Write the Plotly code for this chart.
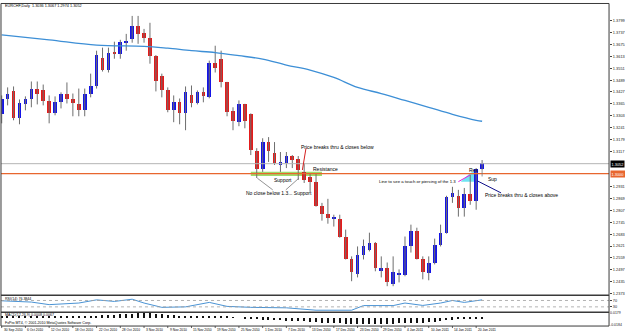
import plotly.graph_objects as go

# ---------------- data ----------------
dates = ["30 Sep 2010", "6 Oct 2010", "12 Oct 2010", "18 Oct 2010", "22 Oct 2010",
         "28 Oct 2010", "3 Nov 2010", "9 Nov 2010", "15 Nov 2010", "19 Nov 2010",
         "25 Nov 2010", "1 Dec 2010", "7 Dec 2010", "13 Dec 2010", "17 Dec 2010",
         "23 Dec 2010", "29 Dec 2010", "4 Jan 2011", "10 Jan 2011", "14 Jan 2011",
         "20 Jan 2011"]
date_bars = [0, 4, 8, 12, 16, 20, 24, 28, 32, 36, 40, 44, 48, 52, 56, 60, 64, 68, 72, 76, 80]

opens = [1.3310, 1.3388, 1.3430, 1.3289, 1.3362, 1.3388, 1.3445, 1.3435, 1.3378, 1.3315,
         1.3373, 1.3414, 1.3393, 1.3362, 1.3331, 1.3419, 1.3461, 1.3607, 1.3544, 1.3633,
         1.3627, 1.3685, 1.3705, 1.3773, 1.3737, 1.3711, 1.3617, 1.3513, 1.3435, 1.3331,
         1.3373, 1.3315, 1.3409, 1.3367, 1.3425, 1.3399, 1.3581, 1.3601, 1.3477, 1.3326,
         1.3269, 1.3362, 1.3310, 1.3118, 1.3024, 1.3165, 1.3107, 1.3045, 1.3055, 1.3092,
         1.3076, 1.3009, 1.2983, 1.2957, 1.2832, 1.2790, 1.2764, 1.2764, 1.2671, 1.2551,
         1.2473, 1.2572, 1.2603, 1.2639, 1.2489, 1.2504, 1.2421, 1.2473, 1.2468, 1.2619,
         1.2702, 1.2555, 1.2478, 1.2535, 1.2629, 1.2691, 1.2879, 1.2884, 1.2821, 1.2894,
         1.2858, 1.3024]
highs = [1.3409, 1.3451, 1.3456, 1.3388, 1.3404, 1.3482, 1.3482, 1.3466, 1.3409, 1.3404,
         1.3425, 1.3477, 1.3419, 1.3445, 1.3445, 1.3523, 1.3643, 1.3659, 1.3659, 1.3690,
         1.3700, 1.3731, 1.3825, 1.3825, 1.3757, 1.3789, 1.3620, 1.3523, 1.3451, 1.3409,
         1.3393, 1.3456, 1.3461, 1.3435, 1.3451, 1.3591, 1.3669, 1.3643, 1.3480, 1.3347,
         1.3383, 1.3365, 1.3315, 1.3133, 1.3185, 1.3191, 1.3165, 1.3113, 1.3113, 1.3097,
         1.3092, 1.3055, 1.3003, 1.2998, 1.2847, 1.2868, 1.2785, 1.2785, 1.2707, 1.2567,
         1.2619, 1.2655, 1.2691, 1.2642, 1.2567, 1.2535, 1.2567, 1.2499, 1.2671, 1.2733,
         1.2717, 1.2567, 1.2567, 1.2660, 1.2733, 1.2884, 1.2931, 1.2915, 1.2925, 1.2993,
         1.3029, 1.3071]
lows = [1.3263, 1.3357, 1.3279, 1.3258, 1.3331, 1.3347, 1.3362, 1.3357, 1.3263, 1.3305,
        1.3341, 1.3367, 1.3300, 1.3300, 1.3300, 1.3399, 1.3445, 1.3534, 1.3529, 1.3601,
        1.3601, 1.3643, 1.3685, 1.3679, 1.3685, 1.3575, 1.3430, 1.3399, 1.3321, 1.3269,
        1.3258, 1.3227, 1.3347, 1.3362, 1.3373, 1.3394, 1.3529, 1.3451, 1.3300, 1.3227,
        1.3248, 1.3237, 1.3097, 1.2977, 1.3009, 1.3061, 1.3045, 1.3009, 1.3029, 1.3029,
        1.2967, 1.2951, 1.2905, 1.2827, 1.2754, 1.2738, 1.2723, 1.2665, 1.2551, 1.2437,
        1.2457, 1.2551, 1.2593, 1.2489, 1.2457, 1.2411, 1.2411, 1.2431, 1.2463, 1.2587,
        1.2551, 1.2447, 1.2442, 1.2525, 1.2619, 1.2686, 1.2847, 1.2775, 1.2775, 1.2837,
        1.2811, 1.3019]
closes = [1.3393, 1.3419, 1.3289, 1.3367, 1.3388, 1.3445, 1.3414, 1.3378, 1.3315, 1.3373,
          1.3414, 1.3388, 1.3367, 1.3331, 1.3419, 1.3461, 1.3622, 1.3544, 1.3633, 1.3627,
          1.3690, 1.3695, 1.3773, 1.3731, 1.3711, 1.3617, 1.3482, 1.3440, 1.3331, 1.3373,
          1.3315, 1.3425, 1.3367, 1.3425, 1.3404, 1.3581, 1.3555, 1.3477, 1.3321, 1.3274,
          1.3362, 1.3274, 1.3123, 1.3024, 1.3165, 1.3118, 1.3055, 1.3061, 1.3092, 1.3071,
          1.3019, 1.2967, 1.2957, 1.2832, 1.2790, 1.2769, 1.2769, 1.2671, 1.2555, 1.2483,
          1.2572, 1.2619, 1.2639, 1.2504, 1.2504, 1.2431, 1.2483, 1.2475, 1.2619, 1.2702,
          1.2555, 1.2483, 1.2530, 1.2629, 1.2691, 1.2879, 1.2899, 1.2821, 1.2894, 1.2858,
          1.3024, 1.3055]

ma_bars = [0, 8, 16, 24, 28, 32, 36, 40, 44, 48, 52, 56, 60, 64, 68, 72, 76, 80, 81]
ma_vals = [1.3726, 1.3700, 1.3672, 1.3666, 1.3656, 1.3643, 1.3633, 1.3617, 1.3599, 1.3568,
           1.3542, 1.3503, 1.3451, 1.3419, 1.3383, 1.3347, 1.3310, 1.3279, 1.3274]

rsi_bars = [0, 5, 8, 13, 16, 19, 22, 24, 27, 31, 35, 38, 42, 48, 53, 59, 61, 66, 68, 71, 74, 76, 78, 81]
rsi_vals = [68, 60, 44, 54, 74, 64, 78, 54, 27, 30, 58, 33, 27, 24, 9, 9, 38, 38, 54, 39, 54, 70, 58, 74]

macd_vals = [0.002, 0.002, 0.002, 0.002, 0.002, 0.003, 0.003, 0.003, 0.002, 0.002,
             0.002, 0.002, 0.002, 0.002, 0.002, 0.003, 0.004, 0.005, 0.006, 0.006,
             0.007, 0.007, 0.008, 0.009, 0.009, 0.009, 0.008, 0.007, 0.006, 0.005,
             0.004, 0.004, 0.003, 0.003, 0.003, 0.004, 0.004, 0.004, 0.002, 0.001,
             0.000, -0.001, -0.002, -0.003, -0.004, -0.004, -0.005, -0.005, -0.006, -0.006,
             -0.007, -0.007, -0.008, -0.009, -0.010, -0.010, -0.011, -0.011, -0.012, -0.012,
             -0.012, -0.012, -0.012, -0.012, -0.012, -0.012, -0.012, -0.011, -0.011, -0.010,
             -0.010, -0.010, -0.009, -0.008, -0.007, -0.005, -0.004, -0.003, -0.003, -0.002,
             -0.001, -0.001]

price_ticks = [1.3889, 1.3799, 1.3737, 1.3675, 1.3613, 1.3551, 1.3489, 1.3427, 1.3365, 1.3303,
               1.3241, 1.3179, 1.3117, 1.2931, 1.2869, 1.2807, 1.2745, 1.2683, 1.2621,
               1.2559, 1.2497, 1.2435, 1.2373]
bid_price = 1.3052
level_price = 1.3000

title_text = "EURCHF,Daily  1.3036 1.3067 1.2974 1.3052"
rsi_label = "RSI(14) 76.3844"
macd_label = "MACD(12,26,9) 0.0008 0.0067"
copyright_text = "FxPro MT4, \u00a9 2001-2010 MetaQuotes Software Corp."

# ---------------- figure ----------------
W, H = 625, 334
BLUE = "#1414e6"
RED = "#e41b1b"
bars = list(range(len(opens)))


def px_x(p):
    return p / W


def px_y(p):
    return 1 - p / H


fig = go.Figure()

# wicks
wx, wy = [], []
for i, h, l in zip(bars, highs, lows):
    wx += [i, i, None]
    wy += [l, h, None]
fig.add_trace(go.Scatter(x=wx, y=wy, mode="lines", line=dict(color="#6e6e6e", width=1),
                         hoverinfo="skip", showlegend=False, xaxis="x", yaxis="y"))
# bodies
base = [min(o, c) for o, c in zip(opens, closes)]
hgt = [max(abs(c - o), 0.0006) for o, c in zip(opens, closes)]
cols = [BLUE if c >= o else RED for o, c in zip(opens, closes)]
fig.add_trace(go.Bar(x=bars, y=hgt, base=base, width=0.62, marker=dict(color=cols, line=dict(width=0)),
                     showlegend=False, xaxis="x", yaxis="y"))
# moving average
fig.add_trace(go.Scatter(x=ma_bars, y=ma_vals, mode="lines", line=dict(color="#3d8fd6", width=1.3, shape="spline"),
                         showlegend=False, xaxis="x", yaxis="y"))
# RSI
fig.add_trace(go.Scatter(x=rsi_bars, y=rsi_vals, mode="lines", line=dict(color="#4a93d4", width=1),
                         showlegend=False, xaxis="x2", yaxis="y2"))
# MACD histogram
fig.add_trace(go.Bar(x=bars, y=macd_vals, width=0.22, marker=dict(color="#111111", line=dict(width=0)),
                     showlegend=False, xaxis="x3", yaxis="y3"))

xr = [(1 - 1.7) / 5.95, (611 - 1.7) / 5.95]
xdom = [px_x(1), px_x(611)]
ax_common = dict(range=xr, domain=xdom, showgrid=False, zeroline=False, showticklabels=False,
                 showline=False, ticks="")
fig.update_layout(
    width=W, height=H, margin=dict(l=0, r=0, t=0, b=0),
    paper_bgcolor="white", plot_bgcolor="white", bargap=0, barmode="overlay",
    font=dict(family="Liberation Sans, Arial, sans-serif", size=5, color="black"),
    xaxis=dict(**ax_common),
    xaxis2=dict(**ax_common, matches="x", anchor="y2"),
    xaxis3=dict(**ax_common, matches="x", anchor="y3"),
    yaxis=dict(domain=[px_y(296), px_y(3)], range=[1.3903 - 0.00052 * 296, 1.3903 - 0.00052 * 3],
               side="right", anchor="x", showgrid=False, zeroline=False,
               tickvals=price_ticks, ticktext=[f"{v:.4f}" for v in price_ticks],
               ticks="outside", ticklen=2, tickcolor="#444", tickfont=dict(size=3.9, color="#222")),
    yaxis2=dict(domain=[px_y(313), px_y(296)], range=[-3, 103], side="right", anchor="x2",
                showgrid=False, zeroline=False, tickvals=[70, 30], ticktext=["70", "30"],
                ticks="outside", ticklen=2, tickfont=dict(size=3.8, color="#222")),
    yaxis3=dict(domain=[px_y(327), px_y(313)], range=[-0.016, 0.012], side="right", anchor="x3",
                showgrid=False, zeroline=False, tickvals=[0.0105, -0.0135], ticktext=["0.0179", "-0.0184"],
                ticks="", tickfont=dict(size=3.5, color="#222")),
)

shapes = []
# horizontal price lines
shapes.append(dict(type="line", xref="paper", yref="y", x0=xdom[0], x1=xdom[1], y0=bid_price, y1=bid_price,
                   line=dict(color="#b4b4b4", width=1)))
shapes.append(dict(type="line", xref="paper", yref="y", x0=xdom[0], x1=xdom[1], y0=level_price, y1=level_price,
                   line=dict(color="#e8662e", width=1.2)))
# RSI levels
for lv in [70, 30]:
    shapes.append(dict(type="line", xref="paper", yref="y2", x0=xdom[0], x1=xdom[1], y0=lv, y1=lv,
                       line=dict(color="#a0a0a0", width=0.8, dash="dot")))
# support zone
shapes.append(dict(type="rect", xref="x", yref="y", x0=42.0, x1=54.0, y0=1.2988, y1=1.3010,
                   fillcolor="#9edc6a", line=dict(width=0), layer="below"))
# cyan zone
shapes.append(dict(type="path", xref="x", yref="y",
                   path="M 77.4 1.2958 L 79.0 1.3003 L 80.1 1.3016 L 80.1 1.2958 Z",
                   fillcolor="#6fe3f2", line=dict(width=0), layer="below"))
# pointer lines
shapes.append(dict(type="line", xref="x", yref="y", x0=51.3, y0=1.3132, x1=50.7, y1=1.3019,
                   line=dict(color="#d42020", width=1)))
shapes.append(dict(type="line", xref="x", yref="y", x0=43.1, y0=1.2976, x1=45.7, y1=1.2915,
                   line=dict(color="#777", width=0.8)))
shapes.append(dict(type="line", xref="x", yref="y", x0=50.1, y0=1.2976, x1=47.9, y1=1.2915,
                   line=dict(color="#777", width=0.8)))
shapes.append(dict(type="line", xref="x", yref="y", x0=77.0, y0=1.2958, x1=79.0, y1=1.2993,
                   line=dict(color="#e020e0", width=1)))
shapes.append(dict(type="line", xref="x", yref="y", x0=81.0, y0=1.3019, x1=81.0, y1=1.2985,
                   line=dict(color="#777", width=0.8)))
shapes.append(dict(type="line", xref="x", yref="y", x0=80.2, y0=1.2962, x1=84.2, y1=1.2899,
                   line=dict(color="#10108a", width=1)))
# frame
frame = "#3a3a3a"
shapes.append(dict(type="rect", xref="paper", yref="paper", x0=px_x(1), x1=px_x(611), y0=px_y(327), y1=px_y(2.5),
                   line=dict(color=frame, width=1)))
for yy in [296, 313]:
    shapes.append(dict(type="line", xref="paper", yref="paper", x0=px_x(1), x1=px_x(611), y0=px_y(yy), y1=px_y(yy),
                       line=dict(color=frame, width=1.5)))
# date ticks
for b in date_bars:
    shapes.append(dict(type="line", xref="x", yref="paper", x0=b, x1=b, y0=px_y(327), y1=px_y(329),
                       line=dict(color=frame, width=0.8)))
fig.update_layout(shapes=shapes)

ann = []


def txt(x, y, s, xref="x", yref="y", xa="left", size=5, color="black", **kw):
    ann.append(dict(x=x, y=y, xref=xref, yref=yref, text=s, showarrow=False, xanchor=xa, yanchor="middle",
                    font=dict(size=size, color=color), **kw))


txt(px_x(3), px_y(5.5), title_text, xref="paper", yref="paper", size=3.8)
txt(px_x(3), px_y(300), rsi_label, xref="paper", yref="paper", size=3.6)
txt(px_x(3), px_y(316), macd_label, xref="paper", yref="paper", size=3.6)
txt(px_x(3), px_y(323.5), copyright_text, xref="paper", yref="paper", size=3.6)
for b, d in zip(date_bars, dates):
    txt(b, px_y(331), d, yref="paper", size=3.3)

txt(50.1, 1.3139, "Price breaks thru &amp; closes below", size=5)
txt(52.2, 1.3022, "Resistance", size=5)
txt(45.6, 1.2967, "Support", size=5)
txt(40.9, 1.2897, "No close below 1.3... Support", size=5)
txt(76.9, 1.2959, "Line to see a touch or piercing of the 1.3", xa="right", size=4.3)
txt(78.4, 1.3019, "Res", size=5)
txt(81.6, 1.2972, "Sup", size=5)
txt(81.2, 1.2889, "Price breaks thru &amp; closes above", size=5)

# price boxes on the right scale
ann.append(dict(x=px_x(611.5), y=bid_price, xref="paper", yref="y", text="1.3052", showarrow=False,
                xanchor="left", yanchor="middle", bgcolor="#000000", font=dict(size=3.9, color="white"),
                borderpad=0.5))
ann.append(dict(x=px_x(611.5), y=level_price, xref="paper", yref="y", text="1.3000", showarrow=False,
                xanchor="left", yanchor="middle", bgcolor="#e8662e", font=dict(size=3.9, color="white"),
                borderpad=0.5))
fig.update_layout(annotations=ann)

fig.write_html("out.html")
